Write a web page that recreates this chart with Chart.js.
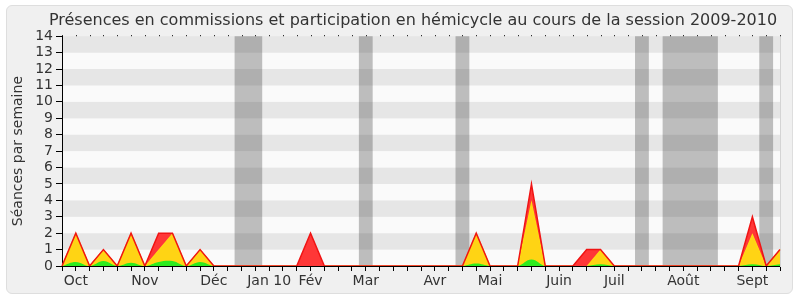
<!DOCTYPE html>
<html lang="fr">
<head>
    <meta charset="UTF-8">
    <title>Présences 2009-2010</title>
    <script src="https://cdn.jsdelivr.net/npm/chart.js"></script>
    <style>
        body { margin: 0; background: #fff; }
        .cadre { position: relative; width: 800px; height: 300px; }
        .fond {
            position: absolute; left: 6px; top: 5px; width: 785px; height: 287px;
            background: #f0f0f0; border: 1px solid #dedede; border-radius: 6px;
        }
        canvas { position: absolute; left: 0; top: 0; }
    </style>
</head>
<body>
<div class="cadre">
    <div class="fond"></div>
    <canvas id="graphe" width="800" height="300"></canvas>
</div>

<script>
    // une entrée par semaine, de fin septembre 2009 à septembre 2010
    const semaines = [
        '', 'Oct', '', '', '', '', 'Nov', '', '', '', '',
        'Déc', '', '', '', 'Jan 10', '', '', 'Fév', '', '', '',
        'Mar', '', '', '', '', 'Avr', '', '', '', 'Mai', '', '', '', '',
        'Juin', '', '', '', 'Juil', '', '', '', '', 'Août', '', '', '', '',
        'Sept', '', ''
    ];

    // séances par semaine (rouge)
    const presences = [
        0, 2, 0, 1, 0, 2, 0, 2, 2, 0,
        1, 0, 0, 0, 0, 0, 0, 0, 2, 0,
        0, 0, 0, 0, 0, 0, 0, 0, 0, 0,
        2, 0, 0, 0, 5, 0, 0, 0, 1, 1,
        0, 0, 0, 0, 0, 0, 0, 0, 0, 0,
        3, 0, 1
    ];

    // participation en hémicycle (jaune)
    const participations = [
        0, 2, 0, 1, 0, 2, 0, 1, 2, 0,
        1, 0, 0, 0, 0, 0, 0, 0, 0, 0,
        0, 0, 0, 0, 0, 0, 0, 0, 0, 0,
        2, 0, 0, 0, 4, 0, 0, 0, 0, 1,
        0, 0, 0, 0, 0, 0, 0, 0, 0, 0,
        2, 0, 1
    ];

    // interventions (vert)
    const interventions = [
        0, 0.25, 0, 0.3, 0, 0.2, 0, 0.25, 0.3, 0,
        0.25, 0, 0, 0, 0, 0, 0, 0, 0, 0,
        0, 0, 0, 0, 0, 0, 0, 0, 0, 0,
        0.15, 0, 0, 0, 0.4, 0, 0, 0, 0, 0.1,
        0, 0, 0, 0, 0, 0, 0, 0, 0, 0,
        0.1, 0, 0.1
    ];

    // semaines de vacances parlementaires (index dans semaines)
    const vacances = [13, 14, 22, 29, 42, 44, 45, 46, 47, 51];

    const yMax = 14;

    // regroupe les semaines consécutives pour éviter les coutures
    const plages = [];
    vacances.forEach(s => {
        const last = plages[plages.length - 1];
        if (last && last[1] === s - 1) last[1] = s;
        else plages.push([s, s]);
    });

    const fondPlugin = {
        id: 'fond',
        afterLayout(chart) {
            // titre un peu décalé vers la droite comme sur l'original
            chart.titleBlock.left = 26;
        },
        beforeDraw(chart) {
            const {ctx, chartArea: a, scales: {x, y}} = chart;
            ctx.save();
            for (let v = 0; v < yMax; v++) {
                ctx.fillStyle = v % 2 ? '#e6e6e6' : '#fafafa';
                const top = y.getPixelForValue(v + 1);
                const bot = y.getPixelForValue(v);
                ctx.fillRect(a.left, top, a.right - a.left, bot - top);
            }
            ctx.fillStyle = 'rgba(50,50,50,0.3)';
            plages.forEach(p => {
                const l = x.getPixelForValue(p[0] - 0.5);
                const r = x.getPixelForValue(p[1] + 0.5);
                ctx.fillRect(l, a.top, r - l, a.bottom - a.top);
            });
            ctx.restore();
        },
        afterDraw(chart) {
            const {ctx, chartArea: a, scales: {x}} = chart;
            ctx.save();
            ctx.fillStyle = '#000';
            for (let i = 0; i < semaines.length; i++) {
                ctx.fillRect(Math.round(x.getPixelForValue(i)), a.top - 1, 1, 1);
            }
            ctx.restore();
        }
    };

    const police = 'DejaVu Sans';

    new Chart(document.getElementById('graphe'), {
        type: 'line',
        data: {
            labels: semaines,
            datasets: [
                {
                    label: 'Présences',
                    data: presences,
                    fill: 1,
                    backgroundColor: 'rgb(255,55,55)',
                    borderColor: 'rgb(240,20,20)',
                    borderWidth: 1.5,
                    pointRadius: 0,
                    order: 1
                },
                {
                    label: 'Participations',
                    data: participations,
                    fill: 'origin',
                    backgroundColor: 'rgb(255,212,20)',
                    borderColor: 'rgb(255,235,0)',
                    borderWidth: 1,
                    pointRadius: 0,
                    order: 3
                },
                {
                    label: 'Interventions',
                    data: interventions,
                    fill: 'origin',
                    backgroundColor: 'rgb(45,235,30)',
                    borderWidth: 0,
                    pointRadius: 0,
                    tension: 0.4,
                    order: 2
                }
            ]
        },
        options: {
            responsive: false,
            animation: false,
            layout: { padding: 0 },
            plugins: {
                legend: { display: false },
                tooltip: { enabled: false },
                title: {
                    display: true,
                    text: 'Présences en commissions et participation en hémicycle au cours de la session 2009-2010',
                    color: '#333',
                    font: { family: police, size: 16, weight: 'normal' },
                    padding: { top: 11, bottom: 6 }
                }
            },
            scales: {
                x: {
                    offset: false,
                    grid: { drawOnChartArea: false, color: '#000', tickLength: 5 },
                    border: { color: '#000' },
                    ticks: {
                        autoSkip: false, maxRotation: 0, padding: 2,
                        color: '#333', font: { family: police, size: 14 }
                    },
                    afterFit: s => { s.height = 34; }
                },
                y: {
                    min: 0,
                    max: yMax,
                    grid: { drawOnChartArea: false, color: '#000', tickLength: 6 },
                    border: { color: '#000' },
                    ticks: {
                        stepSize: 1, padding: 3, autoSkip: false,
                        color: '#333', font: { family: police, size: 14 }
                    },
                    title: {
                        display: true,
                        text: 'Séances par semaine',
                        color: '#333',
                        font: { family: police, size: 14 },
                        padding: { top: 10, bottom: 0 }
                    },
                    afterFit: s => { s.width = 62; }
                },
                droite: {
                    position: 'right',
                    min: 0,
                    max: yMax,
                    grid: { display: false },
                    border: { color: '#d4d4d4' },
                    ticks: { display: false },
                    afterFit: s => { s.width = 20; }
                }
            }
        },
        plugins: [fondPlugin]
    });
</script>
</body>
</html>
